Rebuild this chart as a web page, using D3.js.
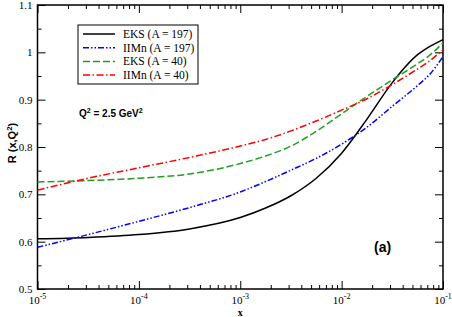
<!DOCTYPE html>
<html>
<head>
<meta charset="utf-8">
<script src="https://cdn.jsdelivr.net/npm/d3@7"></script>
<style>
  body { margin: 0; background: #fff; }
</style>
</head>
<body>
<div id="chart"></div>
<script>
const xValues = [1e-5, 3.16e-5, 1e-4, 3.16e-4, 1e-3, 1.78e-3, 3.16e-3, 5.62e-3, 0.01, 0.0178, 0.0316, 0.0562, 0.075, 0.1];

const eks197  = [0.606, 0.609, 0.615, 0.627, 0.651, 0.671, 0.697, 0.734, 0.787, 0.859, 0.936, 0.995, 1.013, 1.027];
const iimn197 = [0.588, 0.615, 0.643, 0.672, 0.705, 0.727, 0.751, 0.776, 0.806, 0.842, 0.886, 0.930, 0.955, 0.991];
const eks40   = [0.726, 0.729, 0.734, 0.743, 0.765, 0.781, 0.802, 0.833, 0.870, 0.907, 0.942, 0.976, 0.995, 1.020];
const iimn40  = [0.709, 0.734, 0.756, 0.778, 0.802, 0.816, 0.834, 0.855, 0.878, 0.902, 0.932, 0.965, 0.983, 1.006];

const seriesNames = ["EKS (A = 197)", "IIMn (A = 197)", "EKS (A = 40)", "IIMn (A = 40)"];
const seriesValues = [eks197, iimn197, eks40, iimn40];

const xMajorTicks = [1e-5, 1e-4, 1e-3, 1e-2, 1e-1];
const xExponents = ["-5", "-4", "-3", "-2", "-1"];
const yMajorTicks = [0.5, 0.6, 0.7, 0.8, 0.9, 1.0, 1.1];
const yTickLabels = ["0.5", "0.6", "0.7", "0.8", "0.9", "1", "1.1"];

// styles for each series, same order as seriesNames
const seriesColors = ["#000000", "#0000ff", "#1fa01f", "#ff0000"];
const seriesDash = [null, "6,2,1.5,2,1.5,2", "7,3", "7,2.5,1.5,2.5"];

const W = 452, H = 317;
const margin = {top: 5, right: 9, bottom: 28, left: 37.5};
const width = W - margin.left - margin.right;
const height = H - margin.top - margin.bottom;

const svg = d3.select("#chart")
  .append("svg")
  .attr("width", W)
  .attr("height", H);

const g = svg.append("g")
  .attr("transform", `translate(${margin.left},${margin.top})`);

const x = d3.scaleLog().domain([1e-5, 0.1]).range([0, width]);
const y = d3.scaleLinear().domain([0.5, 1.1]).range([height, 0]);

// minor ticks
const xMinor = [];
for (let d = -5; d < -1; d++) {
  for (let k = 2; k <= 9; k++) xMinor.push(k * Math.pow(10, d));
}
const yMinor = d3.range(0.55, 1.1, 0.1);

function styleAxis(sel) {
  sel.select(".domain").remove();
  sel.selectAll(".tick line").attr("stroke", "#000").attr("stroke-width", 1);
}

// ticks pointing inwards on all four sides
g.append("g").attr("transform", `translate(0,${height})`)
  .call(d3.axisBottom(x).tickValues(xMajorTicks).tickSize(-8).tickFormat("")).call(styleAxis);
g.append("g").attr("transform", `translate(0,${height})`)
  .call(d3.axisBottom(x).tickValues(xMinor).tickSize(-4).tickFormat("")).call(styleAxis);
g.append("g")
  .call(d3.axisTop(x).tickValues(xMajorTicks).tickSize(-8).tickFormat("")).call(styleAxis);
g.append("g")
  .call(d3.axisTop(x).tickValues(xMinor).tickSize(-4).tickFormat("")).call(styleAxis);
g.append("g")
  .call(d3.axisLeft(y).tickValues(yMajorTicks).tickSize(-8).tickFormat("")).call(styleAxis);
g.append("g")
  .call(d3.axisLeft(y).tickValues(yMinor).tickSize(-4).tickFormat("")).call(styleAxis);
g.append("g").attr("transform", `translate(${width},0)`)
  .call(d3.axisRight(y).tickValues(yMajorTicks).tickSize(-8).tickFormat("")).call(styleAxis);
g.append("g").attr("transform", `translate(${width},0)`)
  .call(d3.axisRight(y).tickValues(yMinor).tickSize(-4).tickFormat("")).call(styleAxis);

// frame
g.append("rect")
  .attr("width", width)
  .attr("height", height)
  .attr("fill", "none")
  .attr("stroke", "#000")
  .attr("stroke-width", 1.5);

// y tick labels
g.selectAll(".ylab")
  .data(yMajorTicks)
  .enter()
  .append("text")
  .attr("x", -5)
  .attr("y", d => y(d))
  .attr("dy", "0.35em")
  .attr("text-anchor", "end")
  .style("font-family", "'Liberation Serif', serif")
  .style("font-size", "11px")
  .text((d, i) => yTickLabels[i]);

// x tick labels 10^n
const xl = g.selectAll(".xlab")
  .data(xMajorTicks)
  .enter()
  .append("text")
  .attr("x", d => x(d))
  .attr("y", height + 15)
  .attr("text-anchor", "middle")
  .style("font-family", "'Liberation Serif', serif")
  .style("font-size", "11px");
xl.append("tspan").text("10");
xl.append("tspan")
  .attr("dy", -5)
  .style("font-size", "8px")
  .text((d, i) => xExponents[i]);

// axis titles
g.append("text")
  .attr("x", width / 2)
  .attr("y", height + 27)
  .attr("text-anchor", "middle")
  .style("font-family", "'Liberation Serif', serif")
  .style("font-weight", "bold")
  .style("font-size", "10px")
  .text("x");

const yt = svg.append("text")
  .attr("transform", `translate(16,${margin.top + 138}) rotate(-90)`)
  .attr("text-anchor", "middle")
  .style("font-family", "'Liberation Sans', Arial, sans-serif")
  .style("font-weight", "bold")
  .style("font-size", "11px");
yt.append("tspan").text("R (x,Q");
yt.append("tspan").attr("dy", -4).style("font-size", "8px").text("2");
yt.append("tspan").attr("dy", 4).text(")");

// curves
const line = d3.line()
  .x((d, i) => x(xValues[i]))
  .y(d => y(d))
  .curve(d3.curveMonotoneX);

g.selectAll(".curve")
  .data(seriesValues)
  .enter()
  .append("path")
  .attr("fill", "none")
  .attr("stroke", (d, i) => seriesColors[i])
  .attr("stroke-width", 1.5)
  .attr("stroke-dasharray", (d, i) => seriesDash[i])
  .attr("d", line);

// legend
const legend = svg.append("g").attr("transform", "translate(78,25)");
legend.append("rect")
  .attr("width", 120)
  .attr("height", 59)
  .attr("fill", "#fff")
  .attr("stroke", "#000")
  .attr("stroke-width", 1);

const rows = legend.selectAll(".row")
  .data(seriesNames)
  .enter()
  .append("g")
  .attr("transform", (d, i) => `translate(0,${9 + i * 13.7})`);
rows.append("line")
  .attr("x1", 5).attr("x2", 37)
  .attr("stroke", (d, i) => seriesColors[i])
  .attr("stroke-width", 1.5)
  .attr("stroke-dasharray", (d, i) => seriesDash[i]);
rows.append("text")
  .attr("x", 45)
  .attr("dy", "0.35em")
  .style("font-family", "'Liberation Serif', serif")
  .style("font-size", "11.5px")
  .text(d => d);

// Q^2 annotation
const q = svg.append("text")
  .attr("x", 79)
  .attr("y", 117)
  .style("font-family", "'Liberation Sans', Arial, sans-serif")
  .style("font-weight", "bold")
  .style("font-size", "10px");
q.append("tspan").text("Q");
q.append("tspan").attr("dy", -4).style("font-size", "7px").text("2");
q.append("tspan").attr("dy", 4).text(" = 2.5 GeV");
q.append("tspan").attr("dy", -4).style("font-size", "7px").text("2");

svg.append("text")
  .attr("x", 374)
  .attr("y", 252)
  .style("font-family", "'Liberation Sans', Arial, sans-serif")
  .style("font-weight", "bold")
  .style("font-size", "14px")
  .text("(a)");
</script>
</body>
</html>
